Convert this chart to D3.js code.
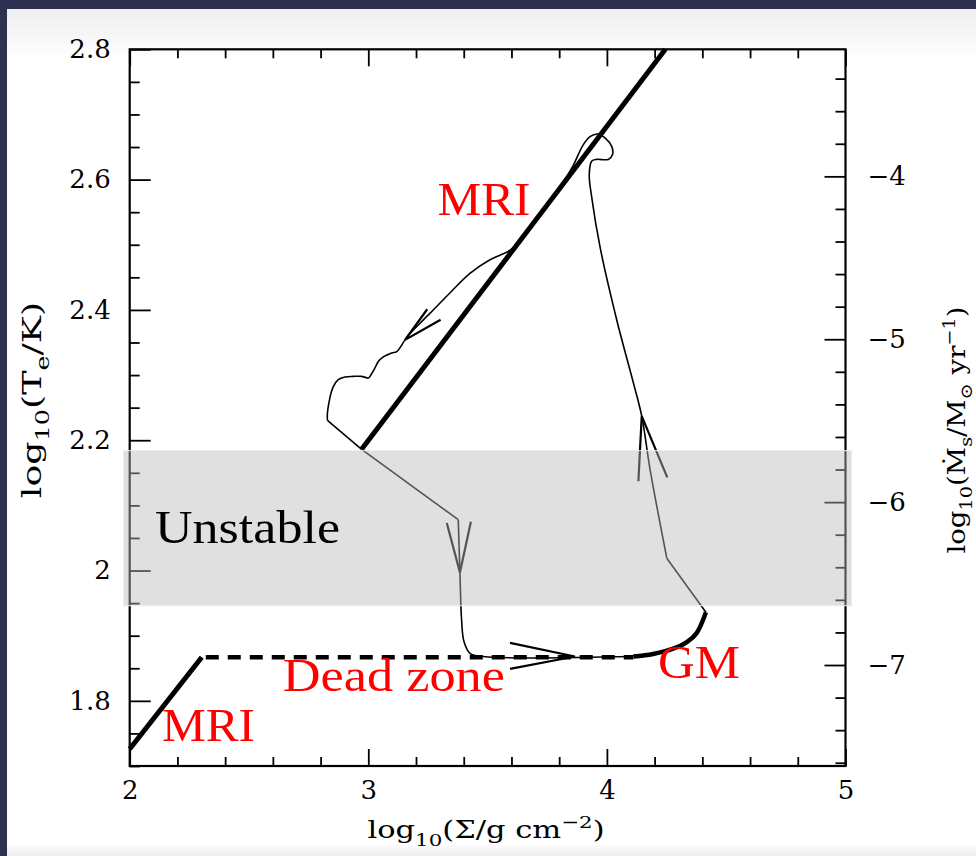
<!DOCTYPE html>
<html><head><meta charset="utf-8">
<script src="https://cdn.jsdelivr.net/npm/d3@7"></script>
<style>html,body{margin:0;padding:0;background:#2e3150;}svg{display:block;}</style>
</head><body>
<svg id="chart" width="976" height="856"></svg>
<script>
// ---------- data ----------
const xTicksMajor = [2, 3, 4, 5];
const xTickLabels = ["2", "3", "4", "5"];
const yTicksMajor = [1.8, 2.0, 2.2, 2.4, 2.6, 2.8];
const yTickLabels = ["1.8", "2", "2.2", "2.4", "2.6", "2.8"];
const rTicksMajor = [-7, -6, -5, -4];
const rTickLabels = ["\u22127", "\u22126", "\u22125", "\u22124"];
const xDomain = [2, 5];
const yDomain = [1.7, 2.8];
const rDomain = [-7.62, -3.22];
const unstableBand = [1.946, 2.184];

const mriUpper = [[2.972, 2.186], [4.245, 2.8]];
const mriLower = [[2.0, 1.726], [2.302, 1.867]];
const deadZone = [[2.302, 1.867], [4.111, 1.867]];
const gmBranch = [[4.111, 1.868], [4.194, 1.872], [4.278, 1.880], [4.335, 1.890], [4.376, 1.904], [4.415, 1.936]];

const trackDrop = [[2.972, 2.186], [3.377, 2.078]];
const trackFall = [[3.377, 2.078], [3.384, 1.997], [3.391, 1.924], [3.401, 1.891], [3.426, 1.873], [3.482, 1.868], [4.111, 1.868]];
const trackJump = [[4.415, 1.936], [4.251, 2.019]];
const trackRise = [[4.251, 2.019], [4.181, 2.155], [4.146, 2.237], [4.111, 2.288], [4.041, 2.385], [3.971, 2.497], [3.936, 2.574],
  [3.926, 2.607], [3.936, 2.628], [3.957, 2.631], [4.006, 2.631], [4.024, 2.639], [4.020, 2.651], [3.992, 2.664], [3.963, 2.670],
  [3.929, 2.666], [3.900, 2.653], [3.858, 2.621], [3.832, 2.605], [3.799, 2.587], [3.606, 2.495], [3.552, 2.484], [3.510, 2.477],
  [3.426, 2.456], [3.342, 2.426], [3.259, 2.395], [3.175, 2.364], [3.154, 2.354], [3.119, 2.336], [3.098, 2.334], [3.063, 2.328],
  [3.042, 2.321], [3.028, 2.311], [3.007, 2.298], [3.000, 2.295]];
const trackHook = [[3.000, 2.295], [2.972, 2.298], [2.937, 2.298], [2.902, 2.297], [2.874, 2.293], [2.853, 2.282], [2.839, 2.265], [2.828, 2.234], [2.830, 2.230]];
const trackClose = [[2.830, 2.230], [2.972, 2.186]];

// arrows: [arm1, tip, arm2]
const arrows = [
  [[3.329, 2.073], [3.384, 1.997], [3.430, 2.075]],
  [[3.594, 1.889], [3.866, 1.868], [3.594, 1.849]],
  [[4.132, 2.137], [4.146, 2.237], [4.253, 2.143]],
  [[3.247, 2.401], [3.154, 2.354], [3.303, 2.385]]
];

const regionLabels = [
  {text: "MRI", x: 3.29, y: 2.546, w: 93, color: "#ff0000"},
  {text: "MRI", x: 2.135, y: 1.739, w: 93, color: "#ff0000"},
  {text: "Dead zone", x: 2.642, y: 1.815, w: 222, color: "#ff0000"},
  {text: "GM", x: 4.214, y: 1.835, w: 82, color: "#ff0000"},
  {text: "Unstable", x: 2.106, y: 2.042, w: 185, color: "#000000"}
];

// ---------- drawing ----------
const svg = d3.select("#chart");
const W = 976, H = 856;
const defs = svg.append("defs");
const grad = defs.append("linearGradient").attr("id", "pg").attr("x1", 0).attr("y1", 0).attr("x2", 0).attr("y2", 1);
grad.append("stop").attr("offset", "0").attr("stop-color", "#eeeeee");
grad.append("stop").attr("offset", "0.06").attr("stop-color", "#ffffff");
grad.append("stop").attr("offset", "0.985").attr("stop-color", "#ffffff");
grad.append("stop").attr("offset", "1").attr("stop-color", "#ececec");

svg.append("rect").attr("width", W).attr("height", H).attr("fill", "#2e3150");
svg.append("rect").attr("x", 7).attr("y", 9).attr("width", W - 7).attr("height", H - 9).attr("fill", "url(#pg)");

const x = d3.scaleLinear().domain(xDomain).range([129.7, 845.5]);
const y = d3.scaleLinear().domain(yDomain).range([766, 49.3]);
const yR = d3.scaleLinear().domain(rDomain).range([766, 49.3]);

const tickFont = "'DejaVu Serif', serif";
function styleAxis(g, w) {
  g.select(".domain").remove();
  g.selectAll(".tick line").attr("stroke", "#000").attr("stroke-width", w);
  g.selectAll(".tick text").attr("font-family", tickFont).attr("font-size", 26).attr("fill", "#000");
}
function range(a, b, s) { const r = []; for (let v = a; v <= b + 1e-9; v += s) r.push(+v.toFixed(4)); return r; }
const xMinor = range(2, 5, 0.2).filter(v => !xTicksMajor.some(m => Math.abs(m - v) < 1e-6));
const yMinor = range(1.7, 2.8, 0.05).filter(v => !yTicksMajor.some(m => Math.abs(m - v) < 1e-6));
const rMinor = range(-7.6, -3.3, 0.2).filter(v => !rTicksMajor.some(m => Math.abs(m - v) < 1e-6));

const axes = svg.append("g");
// bottom
axes.append("g").attr("transform", "translate(0,766)")
  .call(d3.axisBottom(x).tickValues(xTicksMajor).tickSize(-17).tickPadding(15).tickFormat((d, i) => xTickLabels[i]))
  .call(g => styleAxis(g, 1.8));
axes.append("g").attr("transform", "translate(0,766)")
  .call(d3.axisBottom(x).tickValues(xMinor).tickSize(-9).tickFormat(""))
  .call(g => styleAxis(g, 1.8));
// top
axes.append("g").attr("transform", "translate(0,49.3)")
  .call(d3.axisTop(x).tickValues(xTicksMajor).tickSize(-17).tickFormat(""))
  .call(g => styleAxis(g, 1.8));
axes.append("g").attr("transform", "translate(0,49.3)")
  .call(d3.axisTop(x).tickValues(xMinor).tickSize(-9).tickFormat(""))
  .call(g => styleAxis(g, 1.8));
// left
axes.append("g").attr("transform", "translate(129.7,0)")
  .call(d3.axisLeft(y).tickValues(yTicksMajor).tickSize(-21).tickPadding(19).tickFormat((d, i) => yTickLabels[i]))
  .call(g => styleAxis(g, 1.8));
axes.append("g").attr("transform", "translate(129.7,0)")
  .call(d3.axisLeft(y).tickValues(yMinor).tickSize(-10).tickFormat(""))
  .call(g => styleAxis(g, 1.8));
// right
axes.append("g").attr("transform", "translate(845.5,0)")
  .call(d3.axisRight(yR).tickValues(rTicksMajor).tickSize(-21).tickPadding(22).tickFormat((d, i) => rTickLabels[i]))
  .call(g => styleAxis(g, 1.8));
axes.append("g").attr("transform", "translate(845.5,0)")
  .call(d3.axisRight(yR).tickValues(rMinor).tickSize(-10).tickFormat(""))
  .call(g => styleAxis(g, 1.8));
// frame
axes.append("rect").attr("x", x(xDomain[0])).attr("y", y(yDomain[1]))
  .attr("width", x(xDomain[1]) - x(xDomain[0])).attr("height", y(yDomain[0]) - y(yDomain[1]))
  .attr("fill", "none").attr("stroke", "#000").attr("stroke-width", 2.2);

const line = d3.line().x(d => x(d[0])).y(d => y(d[1]));
const curve = d3.line().x(d => x(d[0])).y(d => y(d[1])).curve(d3.curveCatmullRom.alpha(0.5));
const marks = svg.append("g").attr("fill", "none").attr("stroke", "#000");

marks.append("path").attr("d", line(mriUpper)).attr("stroke-width", 5);
marks.append("path").attr("d", line(mriLower)).attr("stroke-width", 5);
marks.append("path").attr("d", line(deadZone)).attr("stroke-width", 4.5).attr("stroke-dasharray", "13,9").attr("stroke-dashoffset", -4);
marks.append("path").attr("d", curve(gmBranch)).attr("stroke-width", 4.5);

[[trackDrop, line], [trackFall, curve], [trackJump, line], [trackRise, curve], [trackHook, curve], [trackClose, line]]
  .forEach(([pts, gen]) => marks.append("path").attr("d", gen(pts)).attr("stroke-width", 1.6).attr("stroke-linejoin", "round"));

arrows.forEach(a => marks.append("path").attr("d", line(a)).attr("stroke-width", 2.2).attr("stroke-linejoin", "miter"));

// unstable band (drawn over, semi-transparent)
svg.append("rect")
  .attr("x", x(xDomain[0]) - 6).attr("width", x(xDomain[1]) - x(xDomain[0]) + 12)
  .attr("y", y(unstableBand[1])).attr("height", y(unstableBand[0]) - y(unstableBand[1]))
  .attr("fill", "#bababa").attr("fill-opacity", 0.45)
  .attr("stroke", "#ececec").attr("stroke-width", 1);

// region labels
svg.append("g").selectAll("text").data(regionLabels).join("text")
  .attr("x", d => x(d.x)).attr("y", d => y(d.y))
  .attr("font-family", "'Liberation Serif', 'Times New Roman', serif").attr("font-size", 47)
  .attr("fill", d => d.color)
  .attr("textLength", d => d.w).attr("lengthAdjust", "spacingAndGlyphs")
  .text(d => d.text);

// axis titles
function richText(g, parts, size) {
  const t = g.append("text").attr("font-family", tickFont).attr("font-size", size).attr("text-anchor", "middle").attr("fill", "#000");
  let shift = 0;
  parts.forEach(p => {
    const sp = t.append("tspan").text(p.t);
    const target = p.s === "sub" ? 0.3 * size : p.s === "sup" ? -0.4 * size : 0;
    sp.attr("dy", target - shift);
    shift = target;
    if (p.s) sp.attr("font-size", size * 0.7);
  });
  return t;
}
const bottomTitle = svg.append("g").attr("transform", "translate(486,838) scale(1.22,1)");
richText(bottomTitle, [{t: "log"}, {t: "10", s: "sub"}, {t: "(\u03a3/g cm"}, {t: "\u22122", s: "sup"}, {t: ")"}], 25);

const leftTitle = svg.append("g").attr("transform", "translate(41,400) rotate(-90) scale(1.4,1)");
richText(leftTitle, [{t: "log"}, {t: "10", s: "sub"}, {t: "(T"}, {t: "e", s: "sub"}, {t: "/K)"}], 26);

const rightTitle = svg.append("g").attr("transform", "translate(965,430) rotate(-90) scale(1.15,1)");
richText(rightTitle, [{t: "log"}, {t: "10", s: "sub"}, {t: "(\u1e40"}, {t: "s", s: "sub"}, {t: "/M"}, {t: "\u2299", s: "sub"}, {t: " yr"}, {t: "\u22121", s: "sup"}, {t: ")"}], 24);
</script>
</body></html>
